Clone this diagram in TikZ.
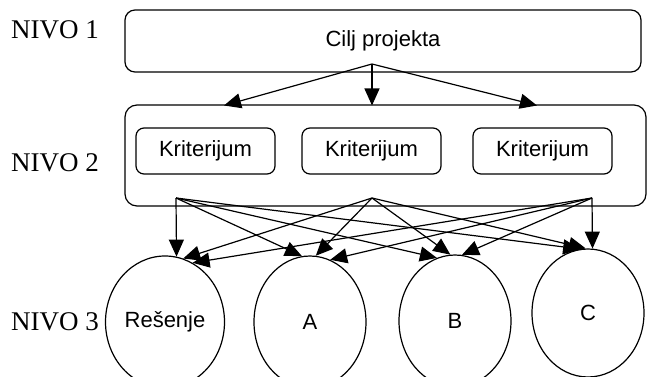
\documentclass[tikz,border=0pt]{standalone}
\usepackage{fontspec}
\setmainfont{Liberation Serif}
\newfontfamily\arialf{Liberation Sans}
\usetikzlibrary{arrows.meta,shapes.geometric}
\begin{document}
\begin{tikzpicture}[x=1pt,y=-1pt,
  lvl/.style={anchor=base west, inner sep=0pt, font=\fontsize{27}{30}\selectfont},
  box/.style={draw, line width=1.2pt, inner sep=0pt, font=\arialf\fontsize{22}{26}\selectfont},
  alt/.style={draw, ellipse, line width=1.2pt, inner sep=0pt, minimum width=112pt, minimum height=132pt, font=\arialf\fontsize{22}{26}\selectfont},
  arr/.style={line width=1.2pt, -{Triangle[length=17pt,width=15pt]}}
]
\useasboundingbox (0,0) rectangle (648,377);
% level labels
\node[lvl] (n1) at (11,39) {NIVO 1};
\node[lvl] (n2) at (11,171.5) {NIVO 2};
\node[lvl] (n3) at (11,330) {NIVO 3};
% level 1
\node[box, rounded corners=10pt, minimum width=516pt, minimum height=62pt] (goal) at (383,41) {Cilj projekta};
% level 2
\node[box, rounded corners=12pt, minimum width=521pt, minimum height=101pt] (crit) at (385.5,155.5) {};
\node[box, rounded corners=8pt, minimum width=139pt, minimum height=46pt] (k1) at (205.5,151) {Kriterijum};
\node[box, rounded corners=8pt, minimum width=139pt, minimum height=46pt] (k2) at (371.5,151) {Kriterijum};
\node[box, rounded corners=8pt, minimum width=139pt, minimum height=46pt] (k3) at (542.5,151) {Kriterijum};
% level 3
\node[alt, minimum width=119pt] (res) at (165,322) {Rešenje};
\node[alt] (a) at (310,322) {A};
\node[alt] (b) at (455,321) {B};
\node[alt, minimum height=128pt] (c) at (588,313) {C};
% connector end points
\coordinate (g) at (372,64);
\coordinate (t1) at (224,105.5);
\coordinate (t2) at (372,105.5);
\coordinate (t3) at (537,105.5);
\coordinate (s1) at (176,198);
\coordinate (s2) at (372,198);
\coordinate (s3) at (592,198);
% level 1 -> level 2
\draw[arr] (g) -- (t1);
\draw[arr] (g) -- (t2);
\draw[arr] (g) -- (t3);
% level 2 -> level 3
\draw[arr] (s1) -- (res.80);
\draw[arr] (s2) -- (res.74);
\draw[arr] (s3) -- (res.65);
\draw[arr] (s1) -- (a.97);
\draw[arr] (s2) -- (a.85);
\draw[arr] (s3) -- (a.72);
\draw[arr] (s1) -- (b.106);
\draw[arr] (s2) -- (b.94);
\draw[arr] (s3) -- (b.84);
\draw[arr] (s1) -- (c.97);
\draw[arr] (s2) -- (c.92);
\draw[arr] (s3) -- (c.86);
\end{tikzpicture}
\end{document}
